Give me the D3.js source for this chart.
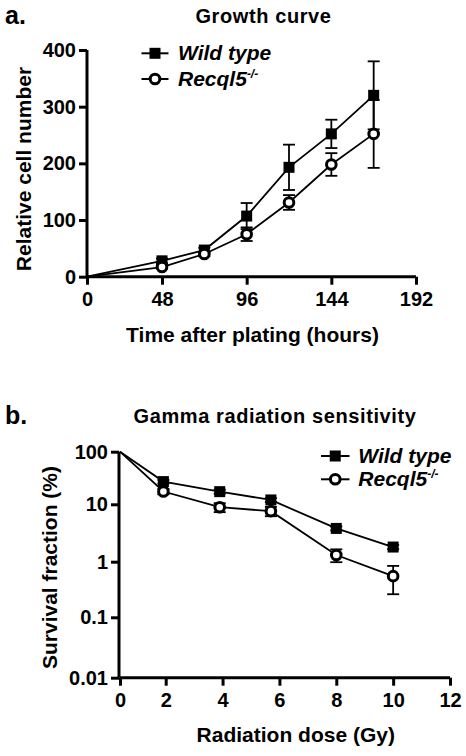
<!DOCTYPE html>
<html><head><meta charset="utf-8">
<script src="https://cdn.jsdelivr.net/npm/d3@7"></script>
<style>
html,body{margin:0;padding:0;background:#fff;}
svg text{font-family:"Liberation Sans",Arial,Helvetica,sans-serif;font-weight:bold;fill:#000;}
</style></head>
<body><svg id="c" width="466" height="756"></svg>
<script>
// ---- Panel a: growth curve ----
const hoursA = [0, 48, 72, 96, 120, 144, 168];
const wtGrowth = [0, 28, 47, 107, 193, 252, 320];
const wtGrowthErr = [0, 4, 4, 23, 40, 25, 60];
const koGrowth = [0, 17, 40, 75, 131, 198, 252];
const koGrowthErr = [0, 3, 4, 12, 13, 20, 60];
const xTicksA = [0, 48, 96, 144, 192];
const yTicksA = [0, 100, 200, 300, 400];

// ---- Panel b: gamma radiation ----
const doseB = [0, 1.9, 3.9, 5.7, 8, 10];
const wtSurv = [100, 27, 17.4, 12.1, 3.8, 1.8];
const wtSurvErr = [0, 2, 1.5, 1, 0.3, 0.15];
const koSurv = [100, 17.5, 8.9, 7.6, 1.31, 0.55];
const koSurvErr = [0, 2, 1.6, 1.4, 0.33, 0.29];
const xTicksB = [0, 2, 4, 6, 8, 10, 12];
const yTicksB = [0.01, 0.1, 1, 10, 100];
const yTickLabelsB = ["0.01", "0.1", "1", "10", "100"];

const svg = d3.select("#c");

function panel(o){
  const g = svg.append("g");
  // axes
  const xAxis = d3.axisBottom(o.x).tickValues(o.xTicks).tickSize(8).tickPadding(7).tickFormat(o.xFmt || d3.format("d"));
  const yAxis = d3.axisLeft(o.y).tickValues(o.yTicks).tickSize(8).tickPadding(3).tickFormat((d,i)=>o.yLabels?o.yLabels[i]:d);
  const gx = g.append("g").attr("transform",`translate(0,${o.y0})`).call(xAxis);
  const gy = g.append("g").attr("transform",`translate(${o.x0},0)`).call(yAxis);
  [gx,gy].forEach(a=>{
    a.select(".domain").attr("stroke","#000").attr("stroke-width",3);
    a.selectAll(".tick line").attr("stroke","#000").attr("stroke-width",3);
    a.selectAll(".tick text").style("font-size","20px").style("font-family","Liberation Sans, Arial, sans-serif").style("font-weight","bold").attr("fill","#000");
  });
  gx.select(".domain").attr("d",`M${o.x.range()[0]},0H${o.x.range()[o.x.range().length-1]}`);
  gy.select(".domain").attr("d",`M0,${o.y.range()[0]}V${o.y.range()[o.y.range().length-1]}`);

  const line = d3.line().x(d=>o.x(d[0])).y(d=>o.y(d[1]));
  o.series.forEach(s=>{
    const pts = o.xs.map((x,i)=>[x,s.v[i],s.e[i]]);
    g.append("path").datum(pts).attr("d",line).attr("fill","none").attr("stroke","#000").attr("stroke-width",1.8);
    const eb = g.append("g");
    pts.filter(p=>p[2]>0).forEach(p=>{
      const cx=o.x(p[0]);
      const lo=Math.max(p[1]-p[2], o.minV||-Infinity), hi=p[1]+p[2];
      eb.append("line").attr("x1",cx).attr("x2",cx).attr("y1",o.y(lo)).attr("y2",o.y(hi)).attr("stroke","#000").attr("stroke-width",1.8);
      [lo,hi].forEach(v=>eb.append("line").attr("x1",cx-6).attr("x2",cx+6).attr("y1",o.y(v)).attr("y2",o.y(v)).attr("stroke","#000").attr("stroke-width",1.8));
    });
  });
  // markers (skip origin point)
  o.series.forEach(s=>{
    o.xs.forEach((x,i)=>{
      if(i===0) return;
      marker(g,s.type,o.x(x),o.y(s.v[i]));
    });
  });
  // legend
  o.series.forEach((s,i)=>{
    const ly=o.leg.y+i*o.leg.dy;
    g.append("line").attr("x1",o.leg.x1).attr("x2",o.leg.x2).attr("y1",ly).attr("y2",ly).attr("stroke","#000").attr("stroke-width",2);
    marker(g,s.type,(o.leg.x1+o.leg.x2)/2,ly);
    const t=g.append("text").attr("x",o.leg.tx).attr("y",ly+7).style("font-size","21px").style("font-style","italic");
    if(s.sup){ t.append("tspan").text(s.name); t.append("tspan").attr("dy",-8).style("font-size","12px").text(s.sup);}
    else t.text(s.name);
  });
  // titles
  g.append("text").attr("x",o.title.x).attr("y",o.title.y).attr("text-anchor","middle").style("font-size","20px").style("letter-spacing","0.6px").text(o.title.t);
  g.append("text").attr("x",5).attr("y",o.title.y+1).style("font-size","25px").text(o.letter);
  g.append("text").attr("x",o.xt.x).attr("y",o.xt.y).attr("text-anchor","middle").style("font-size","21px").text(o.xt.t);
  g.append("text").attr("transform",`translate(${o.yt.x},${o.yt.y}) rotate(-90)`).attr("text-anchor","middle").style("font-size","21px").text(o.yt.t);
}
function marker(g,type,x,y){
  if(type==="square") g.append("rect").attr("x",x-5.5).attr("y",y-5.5).attr("width",11).attr("height",11).attr("fill","#000");
  else g.append("circle").attr("cx",x).attr("cy",y).attr("r",4.8).attr("fill","#fff").attr("stroke","#000").attr("stroke-width",3);
}

panel({
  x: d3.scaleLinear().domain([0,48,192]).range([87,162,416]),
  y: d3.scaleLinear().domain([0,400]).range([276.7,50]),
  x0: 87, y0: 276.7,
  xTicks: xTicksA, yTicks: yTicksA,
  xs: hoursA,
  series: [
    {type:"square", v:wtGrowth, e:wtGrowthErr, name:"Wild type"},
    {type:"circle", v:koGrowth, e:koGrowthErr, name:"Recql5", sup:"-/-"}
  ],
  leg:{x1:141.5,x2:168.5,tx:178,y:53.3,dy:25.7},
  title:{x:263.5,y:22.7,t:"Growth curve"},
  letter:"a.",
  xt:{x:252.5,y:341.7,t:"Time after plating (hours)"},
  yt:{x:31,y:169,t:"Relative cell number"}
});

panel({
  x: d3.scaleLinear().domain([0,2,12]).range([120,165.7,450]),
  y: d3.scaleLog().domain([0.01,0.1,1,10,100]).range([677.7,617.3,561.7,504.3,451.7]),
  x0: 119, y0: 677.7,
  xTicks: xTicksB, yTicks: yTicksB, yLabels: yTickLabelsB,
  xs: doseB, minV: 0.011,
  series: [
    {type:"square", v:wtSurv, e:wtSurvErr, name:"Wild type"},
    {type:"circle", v:koSurv, e:koSurvErr, name:"Recql5", sup:"-/-"}
  ],
  leg:{x1:321,x2:349.5,tx:358.3,y:456,dy:23.3},
  title:{x:275,y:423.3,t:"Gamma radiation sensitivity"},
  letter:"b.",
  xt:{x:295.8,y:741.7,t:"Radiation dose (Gy)"},
  yt:{x:57,y:567.5,t:"Survival fraction (%)"}
});
</script></body></html>
